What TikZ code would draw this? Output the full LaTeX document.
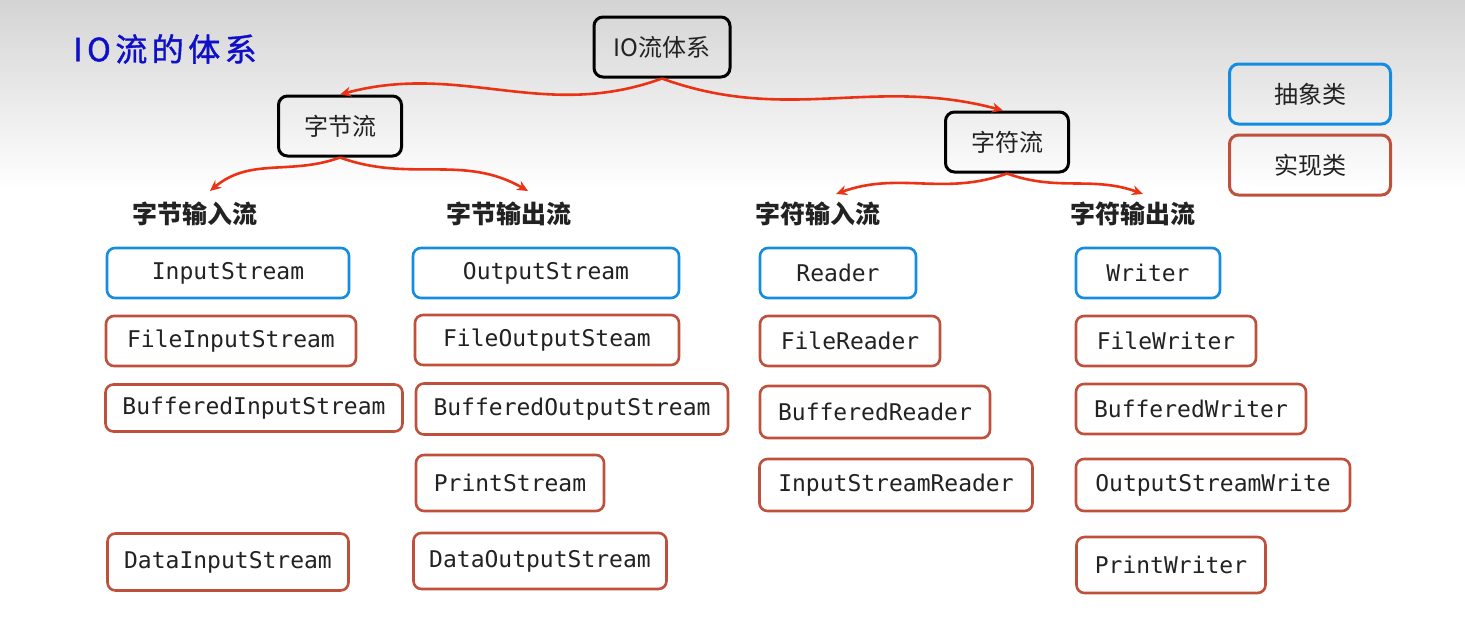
\documentclass[tikz,border=0pt]{standalone}
\usepackage{fontspec}
\setmonofont{DejaVu Sans Mono}
\newfontfamily\cjk{Noto Sans CJK SC}
\newfontfamily\titlefont{Noto Sans CJK SC}[LetterSpace=14,FakeBold=1.2]
\usetikzlibrary{arrows.meta}
\definecolor{absblue}{RGB}{20,140,225}
\definecolor{implred}{RGB}{190,80,60}
\definecolor{arrred}{RGB}{235,50,20}
\definecolor{titleblue}{RGB}{15,15,200}
\definecolor{txt}{RGB}{34,34,34}
\begin{document}
\begin{tikzpicture}[x=1pt,y=1pt,
  rootbox/.style={draw=black, line width=3pt, rounded corners=9pt, minimum height=60pt, text=txt, font=\cjk\fontsize{24}{26}\selectfont, inner sep=0pt},
  legbox/.style={line width=3pt, rounded corners=9pt, minimum height=60pt, minimum width=161pt, text=txt, font=\cjk\fontsize{24}{26}\selectfont, inner sep=0pt},
  absbox/.style={draw=absblue, line width=2.6pt, rounded corners=8pt, minimum height=50pt, text=txt, font=\ttfamily\fontsize{23}{25}\selectfont, inner sep=0pt},
  implbox/.style={draw=implred, line width=2.6pt, rounded corners=8pt, minimum height=50pt, text=txt, font=\ttfamily\fontsize{23}{25}\selectfont, inner sep=0pt},
  head/.style={text=txt, font=\cjk\bfseries\fontsize{25}{27}\selectfont, inner sep=0pt},
  arr/.style={draw=arrred, line width=2.6pt, -{Stealth[length=11pt,width=10pt]}}
]
\useasboundingbox (0,0) rectangle (1465,-624);
\fill[white] (0,0) rectangle (1465,-624);
\shade[top color={rgb,255:red,212;green,212;blue,212}, bottom color=white] (0,0) rectangle (1465,-190);

\node[text=titleblue, font=\titlefont\fontsize{32}{34}\selectfont, inner sep=0pt] (title) at (165,-49) {IO流的体系};

\node[rootbox, minimum width=136pt] (root) at (662,-47) {IO流体系};
\node[rootbox, minimum width=123pt] (byte) at (340,-126) {字节流};
\node[rootbox, minimum width=123pt] (char) at (1007,-142) {字符流};

\node[legbox, draw=absblue] (lab) at (1310,-94) {抽象类};
\node[legbox, draw=implred] (limpl) at (1310,-165) {实现类};

\node[head] (bin) at (195,-214) {字节输入流};
\node[head] (bout) at (509,-214) {字节输出流};
\node[head] (cin) at (818,-214) {字符输入流};
\node[head] (cout) at (1133,-214) {字符输出流};

\node[absbox, minimum width=242pt] (is) at (228,-273) {InputStream};
\node[absbox, minimum width=266pt] (os) at (546,-273) {OutputStream};
\node[absbox, minimum width=156pt] (rd) at (838,-273) {Reader};
\node[absbox, minimum width=144pt] (wr) at (1148,-273) {Writer};

\node[implbox, minimum width=250pt] (fis) at (231,-341) {FileInputStream};
\node[implbox, minimum width=264pt] (fos) at (547,-340) {FileOutputSteam};
\node[implbox, minimum width=180pt] (frd) at (850,-341) {FileReader};
\node[implbox, minimum width=180pt] (fwr) at (1166,-341) {FileWriter};

\node[implbox, minimum width=297pt, minimum height=47pt] (bis) at (254,-408) {BufferedInputStream};
\node[implbox, minimum width=312pt, minimum height=51pt] (bos) at (572,-409) {BufferedOutputStream};
\node[implbox, minimum width=230pt, minimum height=52pt] (brd) at (875,-412) {BufferedReader};
\node[implbox, minimum width=230pt] (bwr) at (1191,-409) {BufferedWriter};

\node[implbox, minimum width=188pt, minimum height=56pt] (ps) at (510,-483) {PrintStream};
\node[implbox, minimum width=273pt, minimum height=52pt] (isr) at (896,-485) {InputStreamReader};
\node[implbox, minimum width=274pt, minimum height=52pt] (osw) at (1213,-485) {OutputStreamWrite};

\node[implbox, minimum width=241pt, minimum height=57pt] (dis) at (228,-562) {DataInputStream};
\node[implbox, minimum width=253pt, minimum height=56pt] (dos) at (540,-561) {DataOutputStream};
\node[implbox, minimum width=189pt, minimum height=56pt] (pw) at (1171,-565) {PrintWriter};

\coordinate (bintip) at (210,-191);
\coordinate (bouttip) at (528,-191);
\coordinate (cintip) at (836,-194);
\coordinate (couttip) at (1143,-194);

\draw[arr] (root.south) to[out=200,in=15] (byte.north);
\draw[arr] (root.south) to[out=-20,in=165] ([xshift=-4pt]char.north);
\draw[arr] (byte.south) to[out=200,in=40] (bintip);
\draw[arr] (byte.south) to[out=-20,in=150] (bouttip);
\draw[arr] (char.south) to[out=200,in=20] (cintip);
\draw[arr] (char.south) to[out=-20,in=160] (couttip);
\end{tikzpicture}
\end{document}
